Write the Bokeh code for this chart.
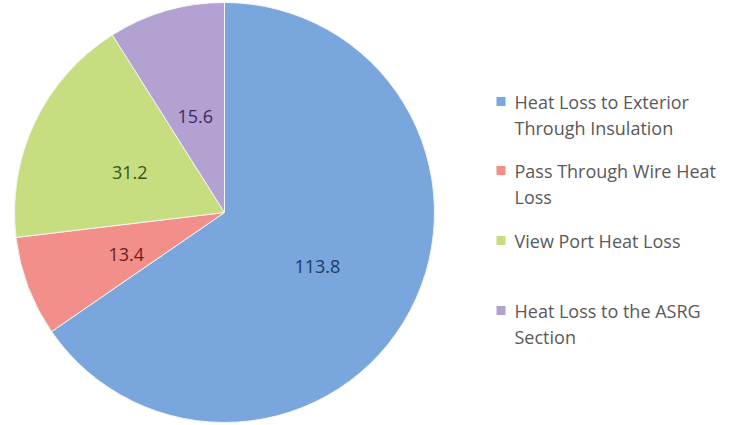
import math
from bokeh.plotting import figure
from bokeh.models import ColumnDataSource
from bokeh.core.properties import value
from bokeh.embed import file_html
from bokeh.resources import INLINE

# Heat loss breakdown
categories = [
    "Heat Loss to Exterior Through Insulation",
    "Pass Through Wire Heat Loss",
    "View Port Heat Loss",
    "Heat Loss to the ASRG Section",
]
legend_lines = [
    ["Heat Loss to Exterior", "Through Insulation"],
    ["Pass Through Wire Heat", "Loss"],
    ["View Port Heat Loss"],
    ["Heat Loss to the ASRG", "Section"],
]
values = [113.8, 13.4, 31.2, 15.6]
colors = ["#79a7dd", "#f28f8a", "#c6de80", "#b3a1d2"]
label_colors = ["#1f3a63", "#6a2020", "#3b5418", "#3c2b5c"]

W, H = 729, 425
p = figure(width=W, height=H, x_range=(0, W), y_range=(0, H),
           output_backend="svg", toolbar_location=None,
           min_border=0, outline_line_color=None)
p.axis.visible = False
p.grid.visible = False
p.background_fill_color = "white"
p.border_fill_color = "white"

cx, cy, R = 224, H - 212, 210
total = sum(values)
starts, ends, lx, ly, texts = [], [], [], [], []
a = math.pi / 2
for v in values:
    span = 2 * math.pi * v / total
    starts.append(a)
    ends.append(a - span)
    mid = a - span / 2
    lx.append(cx + 0.5 * R * math.cos(mid))
    ly.append(cy + 0.5 * R * math.sin(mid))
    texts.append(f"{v:.1f}")
    a -= span

src = ColumnDataSource(dict(start=starts, end=ends, color=colors,
                            lx=lx, ly=ly, text=texts, tcolor=label_colors))
p.wedge(x=cx, y=cy, radius=R, start_angle="start", end_angle="end",
        direction="clock", fill_color="color", line_color="#f4f4f4",
        line_width=1, source=src)
p.text(x="lx", y="ly", text="text", text_color="tcolor", source=src,
       text_align="center", text_baseline="middle", y_offset=5,
       text_font=value("Open Sans"), text_font_size="18px")

# Legend drawn as squares and text
row_tops = [101, 170, 240, 310]
line_gap = 26
sq_x, sq_y = [], []
tx, ty, tt = [], [], []
for i, lines in enumerate(legend_lines):
    y0 = row_tops[i]
    sq_x.append(500.5)
    sq_y.append(H - y0)
    for j, line in enumerate(lines):
        tx.append(514)
        ty.append(H - (y0 + j * line_gap))
        tt.append(line)

p.rect(x=sq_x, y=sq_y, width=9, height=9, fill_color=colors, line_color=None)
p.text(x=tx, y=ty, text=tt, text_color="#595959", text_align="left",
       text_baseline="middle", text_font=value("Open Sans"),
       text_font_size="18px")

open("out.html", "w").write(file_html(p, INLINE))
